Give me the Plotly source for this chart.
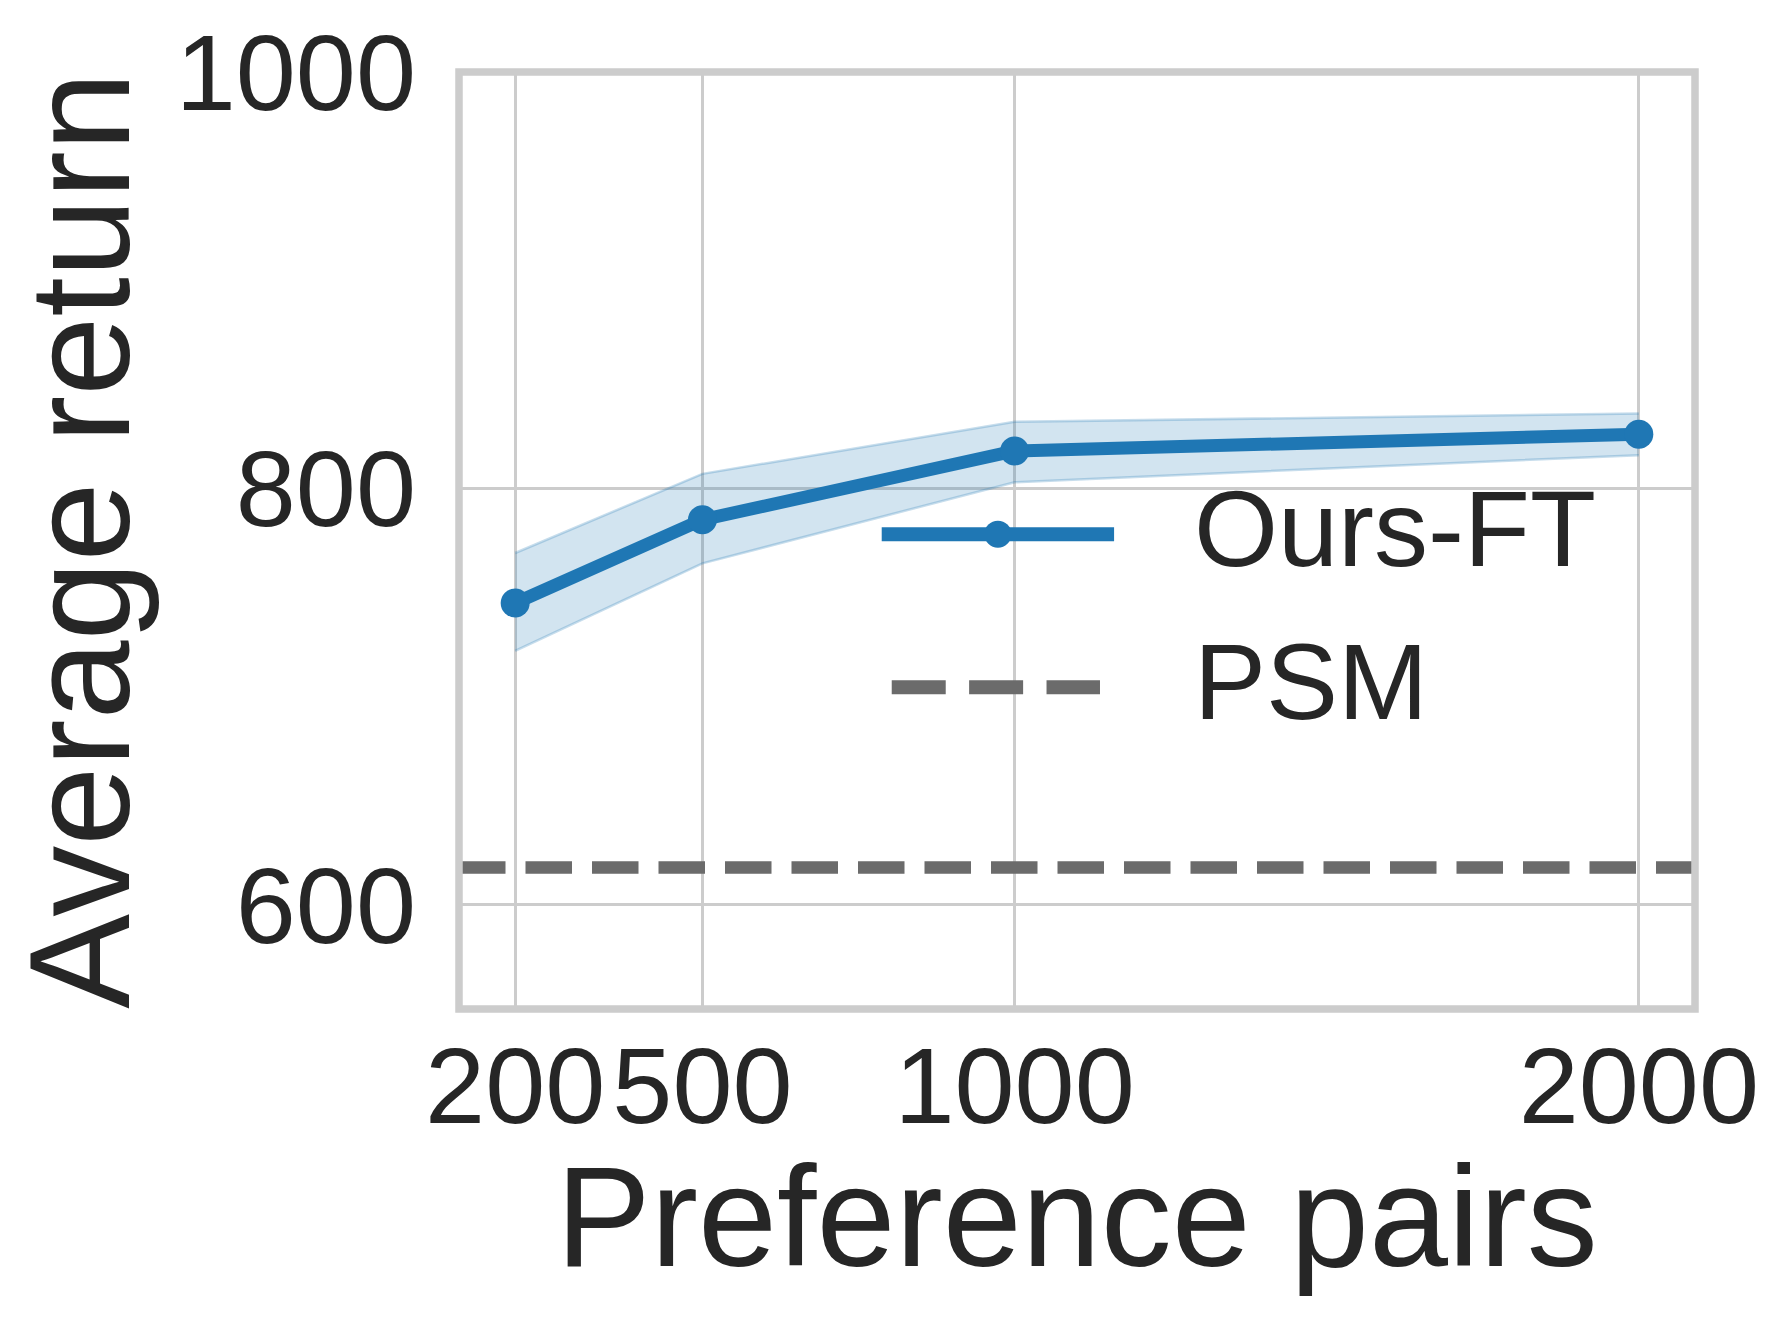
import plotly.graph_objects as go

pairs = [200, 500, 1000, 2000]
ours_mean = [745, 785, 818, 826]
ours_upper = [769, 807, 832, 836]
ours_lower = [722, 764, 803, 816]
psm_value = 618
y_ticks = [600, 800, 1000]
x_ticks = [200, 500, 1000, 2000]

blue = "#1f77b4"
grey = "#6b6b6b"
txt = "#262626"
FONT = "Liberation Sans, Arial, sans-serif"

fig = go.Figure()
fig.add_trace(go.Scatter(x=pairs, y=ours_upper, mode="lines",
                         line=dict(color="rgba(31,119,180,0.25)", width=2.5),
                         showlegend=False, hoverinfo="skip"))
fig.add_trace(go.Scatter(x=pairs, y=ours_lower, mode="lines", fill="tonexty",
                         fillcolor="rgba(31,119,180,0.2)",
                         line=dict(color="rgba(31,119,180,0.25)", width=2.5),
                         showlegend=False, hoverinfo="skip"))
fig.add_trace(go.Scatter(x=[110, 2090], y=[psm_value, psm_value], mode="lines",
                         line=dict(color=grey, width=12.5, dash="46.5px,20px"),
                         name="PSM", showlegend=False))
fig.add_trace(go.Scatter(x=pairs, y=ours_mean, mode="lines+markers",
                         line=dict(color=blue, width=13),
                         marker=dict(color=blue, size=29),
                         name="Ours-FT", showlegend=False))

# frame (spines centred on the axes edges, drawn above the data)
fig.add_shape(type="rect", xref="paper", yref="paper", x0=0, x1=1, y0=0, y1=1,
              line=dict(color="#cccccc", width=7.5), layer="above")

# manual legend (long samples like matplotlib)
leg_x0, leg_x1, leg_tx = 0.342, 0.530, 0.5931
leg_y = [0.5068, 0.3434]
fig.add_shape(type="line", xref="paper", yref="paper", x0=leg_x0, x1=leg_x1,
              y0=leg_y[0], y1=leg_y[0], line=dict(color=blue, width=14))
fig.add_trace(go.Scatter(x=[(leg_x0 + leg_x1) / 2], y=[leg_y[0]], xaxis="x2", yaxis="y2",
                         mode="markers", marker=dict(color=blue, size=27),
                         showlegend=False, hoverinfo="skip"))
fig.add_shape(type="line", xref="paper", yref="paper", x0=0.3501, x1=0.5186,
              y0=leg_y[1], y1=leg_y[1], line=dict(color=grey, width=14, dash="54px,23.4px"))
for name, yy in zip(["Ours-FT", "PSM"], leg_y):
    fig.add_annotation(x=leg_tx, y=yy + 0.0065, xref="paper", yref="paper", text=name,
                       showarrow=False, xanchor="left", yanchor="middle",
                       font=dict(size=108, color=txt, family=FONT))

# x-axis title placed like the reference
fig.add_annotation(x=0.5, y=-0.2214, xref="paper", yref="paper", text="Preference pairs",
                   showarrow=False, xanchor="center", yanchor="middle",
                   font=dict(size=142, color=txt, family=FONT))

fig.update_layout(
    width=1789, height=1325,
    margin=dict(l=458.8, r=93.7, t=67.8, b=315.5),
    paper_bgcolor="white", plot_bgcolor="white",
    font=dict(family=FONT, color=txt),
    xaxis=dict(range=[110, 2090], tickvals=x_ticks, ticktext=[str(v) for v in x_ticks],
               tickfont=dict(size=108, color=txt), showgrid=True, gridcolor="#cccccc",
               gridwidth=3, zeroline=False, showline=False, ticks="", ticklabelstandoff=5),
    yaxis=dict(range=[550, 1000], tickvals=y_ticks, tickfont=dict(size=108, color=txt),
               showgrid=True, gridcolor="#cccccc", gridwidth=3, zeroline=False,
               showline=False, ticks="", ticklabelstandoff=42,
               title=dict(text="Average return", font=dict(size=142, color=txt), standoff=2)),
    xaxis2=dict(range=[0, 1], overlaying="x", visible=False, domain=[0, 1]),
    yaxis2=dict(range=[0, 1], overlaying="y", visible=False),
    showlegend=False,
)

fig.write_html("out.html")
